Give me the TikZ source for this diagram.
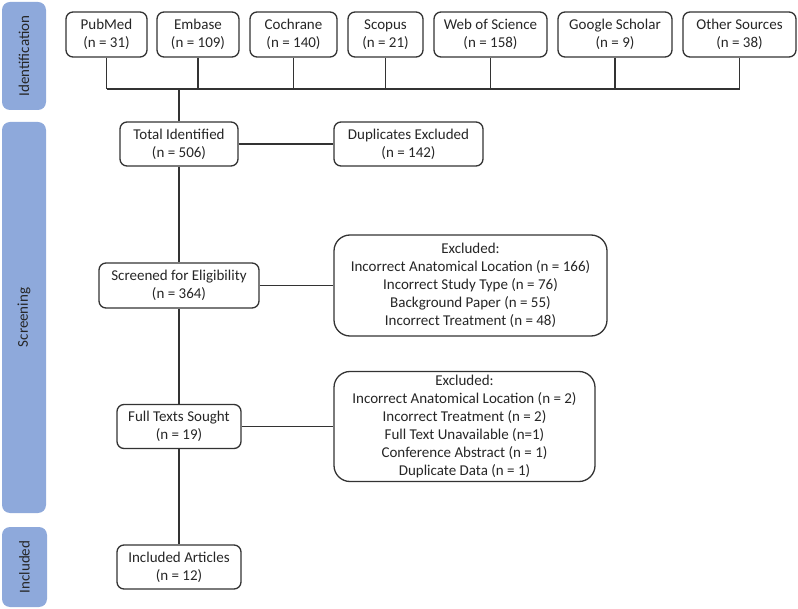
\documentclass[tikz,border=0pt]{standalone}
\usepackage{fontspec}
\setmainfont{Carlito}
\definecolor{band}{HTML}{8EA9DB}
\definecolor{ink}{HTML}{262626}
\definecolor{edge}{HTML}{333333}
\begin{document}
\begin{tikzpicture}[x=1pt,y=-1pt,
  box/.style={draw=edge,line width=1.3pt,rounded corners=7pt,fill=white,align=center,
    text=ink,font=\fontsize{15}{18}\selectfont,inner sep=0pt},
  bigbox/.style={box,rounded corners=16pt},
  bandbox/.style={fill=band,rounded corners=8pt,draw=none},
  bandtext/.style={rotate=90,text=ink,font=\fontsize{15}{18}\selectfont},
  link/.style={draw=edge,line width=1.3pt}]
\useasboundingbox (0,0) rectangle (798,609);
% bands
\path[bandbox] (2,2) rectangle (46,110);
\path[bandbox] (2,122) rectangle (46,513);
\path[bandbox] (2,527) rectangle (47,607);
\node[bandtext] (lid) at (24,56) {Identification};
\node[bandtext] (lsc) at (24,317.5) {Screening};
\node[bandtext] (lin) at (24.5,567) {Included};
% sources
\node[box,minimum width=81pt,minimum height=45pt] (pub) at (106.5,34.5) {PubMed\\(n = 31)};
\node[box,minimum width=82pt,minimum height=45pt] (emb) at (198,34.5) {Embase\\(n = 109)};
\node[box,minimum width=87pt,minimum height=45pt] (coch) at (293.5,34.5) {Cochrane\\(n = 140)};
\node[box,minimum width=75pt,minimum height=45pt] (scop) at (385.5,34.5) {Scopus\\(n = 21)};
\node[box,minimum width=113pt,minimum height=45pt] (wos) at (490.5,34.5) {Web of Science\\(n = 158)};
\node[box,minimum width=114pt,minimum height=45pt] (goo) at (615,34.5) {Google Scholar\\(n = 9)};
\node[box,minimum width=113pt,minimum height=45pt] (oth) at (739.5,34.5) {Other Sources\\(n = 38)};
% main flow
\node[box,minimum width=118pt,minimum height=44pt] (tot) at (179,144) {Total Identified\\(n = 506)};
\node[box,minimum width=149pt,minimum height=44pt] (dup) at (408.5,144) {Duplicates Excluded\\(n = 142)};
\node[box,minimum width=160pt,minimum height=45pt] (scr) at (179,285.5) {Screened for Eligibility\\(n = 364)};
\node[bigbox,minimum width=273pt,minimum height=101pt] (ex1) at (470.5,285.5) {Excluded:\\Incorrect Anatomical Location (n = 166)\\Incorrect Study Type (n = 76)\\Background Paper (n = 55)\\Incorrect Treatment (n = 48)};
\node[box,minimum width=124pt,minimum height=44pt] (full) at (179,426.5) {Full Texts Sought\\(n = 19)};
\node[bigbox,minimum width=261pt,minimum height=110pt] (ex2) at (464.5,426.5) {Excluded:\\Incorrect Anatomical Location (n = 2)\\Incorrect Treatment (n = 2)\\Full Text Unavailable (n=1)\\Conference Abstract (n = 1)\\Duplicate Data (n = 1)};
\node[box,minimum width=124pt,minimum height=44pt] (inc) at (179,567) {Included Articles\\(n = 12)};
% connectors
\coordinate (bus) at (179,89);
\foreach \s in {pub,emb,coch,scop,wos,goo,oth}{\draw[link] (\s.south) -- (\s.south |- bus);}
\draw[link] (pub.south |- bus) -- (oth.south |- bus);
\draw[link] (bus) -- (tot.north);
\draw[link] (tot.east) -- (dup.west);
\draw[link] (tot.south) -- (scr.north);
\draw[link] (scr.east) -- (ex1.west);
\draw[link] (scr.south) -- (full.north);
\draw[link] (full.east) -- (ex2.west);
\draw[link] (full.south) -- (inc.north);
\end{tikzpicture}
\end{document}
